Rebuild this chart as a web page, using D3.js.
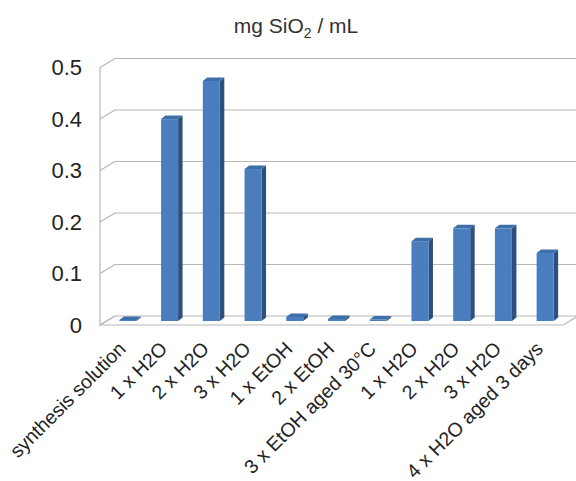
<!DOCTYPE html>
<html>
<head>
<meta charset="utf-8">
<script src="https://cdn.jsdelivr.net/npm/d3@7"></script>
<style>
  body { margin: 0; background: #fff; }
  svg { font-family: "Liberation Sans", Arial, sans-serif; }
</style>
</head>
<body>
<div id="chart"></div>
<script>
const categories = [
  "synthesis solution", "1 x H2O", "2 x H2O", "3 x H2O", "1 x EtOH", "2 x EtOH",
  "3 x EtOH aged 30°C", "1 x H2O", "2 x H2O", "3 x H2O", "4 x H2O aged 3 days"
];
const values = [0.002, 0.392, 0.466, 0.295, 0.008, 0.004, 0.003, 0.155, 0.18, 0.18, 0.132];
const yTicks = [0, 0.1, 0.2, 0.3, 0.4, 0.5];

const width = 576;
const height = 481;
const front = { left: 100, right: 561, bottom: 325 };
const depth = { dx: 15, dy: -9 };      // floor / wall depth offset
const barShift = { dx: 7, dy: -4 };    // bars sit mid-depth
const barW = 17;
const barD = { dx: 4.5, dy: -3.5 };    // bar own depth

const svg = d3.select("#chart").append("svg")
  .attr("width", width)
  .attr("height", height);

const x = d3.scaleBand()
  .domain(categories.map((d, i) => i))
  .range([front.left, front.right - 2])
  .padding(0);

const y = d3.scaleLinear()
  .domain([0, 0.5])
  .range([front.bottom, front.bottom - 257.5]);

// title
const title = svg.append("text")
  .attr("x", 296)
  .attr("y", 33)
  .attr("text-anchor", "middle")
  .style("font-size", "21px")
  .style("fill", "#333");
title.append("tspan").text("mg SiO");
title.append("tspan").attr("dy", 5).style("font-size", "14px").text("2");
title.append("tspan").attr("dy", -5).text(" / mL");

const grid = "#b8b8b8";

// floor
const fx0 = front.left, fx1 = front.right + 2;
svg.append("path")
  .attr("d", `M${fx0},${y(0)} L${fx1},${y(0)} L${fx1 + depth.dx},${y(0) + depth.dy} L${fx0 + depth.dx},${y(0) + depth.dy} Z`)
  .attr("fill", "#fff")
  .attr("stroke", grid)
  .attr("stroke-width", 1.2);

// back wall gridlines and left wall diagonals
yTicks.forEach(t => {
  const yf = y(t);
  if (t > 0) {
    svg.append("line")
      .attr("x1", fx0 + depth.dx).attr("x2", width)
      .attr("y1", yf + depth.dy).attr("y2", yf + depth.dy)
      .attr("stroke", grid).attr("stroke-width", 1.2);
  }
  svg.append("line")
    .attr("x1", fx0).attr("x2", fx0 + depth.dx)
    .attr("y1", yf).attr("y2", yf + depth.dy)
    .attr("stroke", grid).attr("stroke-width", 1.2);
});
svg.append("line")
  .attr("x1", fx0).attr("x2", fx0)
  .attr("y1", y(0.5)).attr("y2", y(0))
  .attr("stroke", grid).attr("stroke-width", 1.2);

// y tick labels
svg.append("g")
  .selectAll("text")
  .data(yTicks)
  .join("text")
  .attr("x", 82)
  .attr("y", d => y(d))
  .attr("dy", "0.36em")
  .attr("text-anchor", "end")
  .style("font-size", "22px")
  .style("fill", "#222")
  .text(d => d === 0 ? "0" : d3.format(".1f")(d));

// bars
const bars = svg.append("g")
  .selectAll("g")
  .data(values)
  .join("g");

const bx = (d, i) => x(i) + x.bandwidth() / 2 - barW / 2 + barShift.dx;
const by = d => y(d) + barShift.dy;
const b0 = y(0) + barShift.dy;

bars.append("path")  // side
  .attr("d", (d, i) => {
    const x1 = bx(d, i) + barW;
    return `M${x1},${by(d)} L${x1 + barD.dx},${by(d) + barD.dy} L${x1 + barD.dx},${b0 + barD.dy} L${x1},${b0} Z`;
  })
  .attr("fill", "#2b5080");

bars.append("path")  // top
  .attr("d", (d, i) => {
    const x0 = bx(d, i);
    return `M${x0},${by(d)} L${x0 + barD.dx},${by(d) + barD.dy} L${x0 + barW + barD.dx},${by(d) + barD.dy} L${x0 + barW},${by(d)} Z`;
  })
  .attr("fill", "#3f6fa8");

bars.append("rect")  // front
  .attr("x", (d, i) => bx(d, i))
  .attr("y", d => by(d))
  .attr("width", barW)
  .attr("height", d => b0 - by(d))
  .attr("fill", "#4a7dbd");

// x labels
svg.append("g")
  .selectAll("text")
  .data(categories)
  .join("text")
  .attr("transform", (d, i) => `translate(${x(i) + x.bandwidth() / 2 + barShift.dx - 1},350) rotate(-45)`)
  .attr("text-anchor", "end")
  .style("font-size", "19.5px")
  .style("fill", "#222")
  .text(d => d);
</script>
</body>
</html>
